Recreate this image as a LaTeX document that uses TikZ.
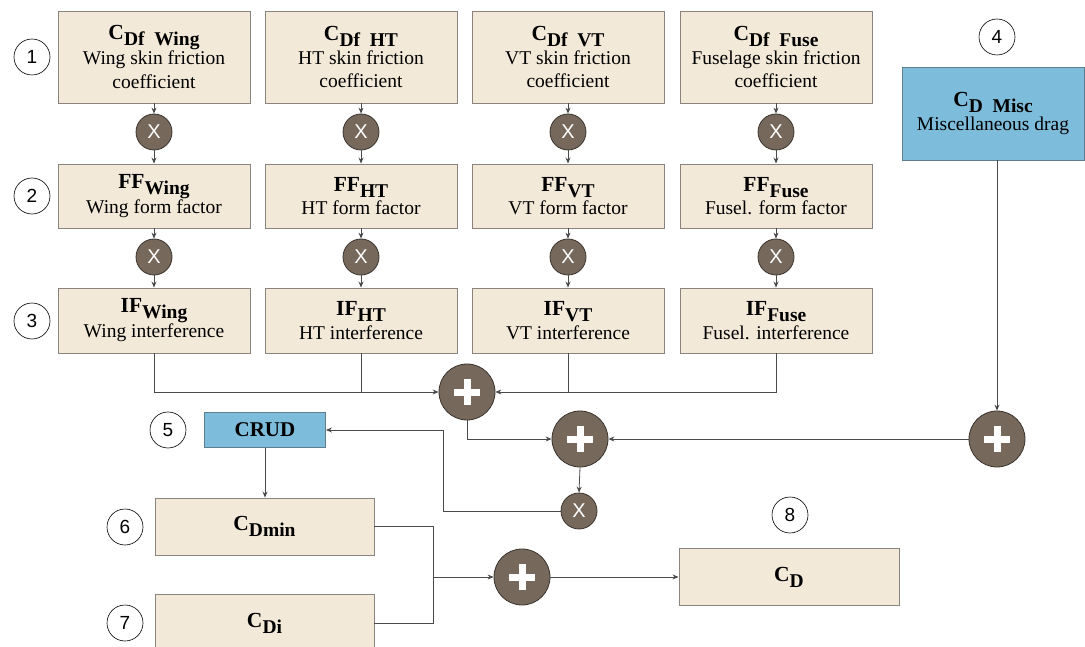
\documentclass[tikz,border=0pt]{standalone}
\usepackage{fontspec}
\setmainfont{Liberation Serif}
\newfontfamily\numfont{Liberation Sans}
\usetikzlibrary{arrows.meta,calc}
\definecolor{boxfill}{HTML}{F2E9D8}
\definecolor{boxline}{HTML}{8A837E}
\definecolor{bluefill}{HTML}{7DBCDA}
\definecolor{bluebord}{HTML}{5F7F8F}
\definecolor{opfill}{HTML}{76685B}
\definecolor{opline}{HTML}{3A332D}
\definecolor{wire}{HTML}{4A4A4A}
\newcommand\bodysize{\fontsize{19.5}{23.5}\selectfont}
\newcommand\ttl[2]{{\fontsize{21.5}{24}\selectfont\bfseries #1\raisebox{-0.6ex}{\fontsize{19.5}{22}\selectfont #2}}}
\tikzset{
  box/.style={draw=boxline, fill=boxfill, line width=0.9pt, align=center, inner sep=0pt, font=\bodysize},
  bluebox/.style={box, draw=bluebord, fill=bluefill},
  mult/.style={circle, draw=opline, fill=opfill, line width=0.8pt, minimum size=36pt, inner sep=0pt,
     text=white, font=\numfont\fontsize{20}{20}\selectfont},
  plus/.style={circle, draw=opline, fill=opfill, line width=0.8pt, minimum size=56pt, inner sep=0pt},
  num/.style={circle, draw=black, fill=white, line width=0.6pt, minimum size=36pt, inner sep=0pt,
     font=\numfont\fontsize{19}{19}\selectfont},
  wire/.style={draw=wire, line width=0.8pt},
  arr/.style={wire, -{Stealth[length=6pt,width=5pt]}},
}
% white cross drawn inside a summing node
\newcommand\pluscross[1]{%
  \fill[white] ($(#1)+(-13,-3.5)$) rectangle ($(#1)+(13,3.5)$);
  \fill[white] ($(#1)+(-3.5,-13)$) rectangle ($(#1)+(3.5,13)$);}
\begin{document}
\begin{tikzpicture}[x=1pt,y=-1pt]
\useasboundingbox (0,0) rectangle (1085,647);
\begin{scope}
\clip (0,0) rectangle (1085,647);

% row labels
\node[num] (n1) at (32,57) {1};
\node[num] (n2) at (32,196) {2};
\node[num] (n3) at (32,321) {3};
\node[num] (n4) at (997,37) {4};
\node[num] (n5) at (168,430) {5};
\node[num] (n6) at (125,527) {6};
\node[num] (n7) at (125,623) {7};
\node[num] (n8) at (790,515) {8};

% skin friction coefficients
\node[box, minimum width=192pt, minimum height=92pt] (cw) at (154,57) {\ttl{C}{Df\ \ Wing}\\Wing skin friction\\coefficient};
\node[box, minimum width=192pt, minimum height=92pt] (ch) at (361,57) {\ttl{C}{Df\ \ HT}\\HT skin friction\\coefficient};
\node[box, minimum width=192pt, minimum height=92pt] (cv) at (568,57) {\ttl{C}{Df\ \ VT}\\VT skin friction\\coefficient};
\node[box, minimum width=192pt, minimum height=92pt] (cf) at (776,57) {\ttl{C}{Df\ \ Fuse}\\Fuselage skin friction\\coefficient};

% form factors
\node[box, minimum width=192pt, minimum height=64pt] (fw) at (154,196) {\ttl{FF}{Wing}\\Wing form factor};
\node[box, minimum width=192pt, minimum height=64pt] (fh) at (361,196) {\ttl{FF}{HT}\\HT form factor};
\node[box, minimum width=192pt, minimum height=64pt] (fv) at (568,196) {\ttl{FF}{VT}\\VT form factor};
\node[box, minimum width=192pt, minimum height=64pt] (ff) at (776,196) {\ttl{FF}{Fuse}\\Fusel. form factor};

% interference factors
\node[box, minimum width=192pt, minimum height=65pt] (iw) at (154,320.5) {\ttl{IF}{Wing}\\Wing interference};
\node[box, minimum width=192pt, minimum height=65pt] (ih) at (361,320.5) {\ttl{IF}{HT}\\HT interference};
\node[box, minimum width=192pt, minimum height=65pt] (iv) at (568,320.5) {\ttl{IF}{VT}\\VT interference};
\node[box, minimum width=192pt, minimum height=65pt] (if) at (776,320.5) {\ttl{IF}{Fuse}\\Fusel. interference};

% multiplication nodes
\foreach \c/\x in {w/154,h/361,v/568,f/776}{
  \node[mult] (ma\c) at (\x,132) {X};
  \node[mult] (mb\c) at (\x,257) {X};
  \draw[arr] (c\c) -- (ma\c);
  \draw[arr] (ma\c) -- (f\c);
  \draw[arr] (f\c) -- (mb\c);
  \draw[arr] (mb\c) -- (i\c);
}

% miscellaneous drag
\node[bluebox, minimum width=182pt, minimum height=93pt] (misc) at (993,113.5) {\ttl{C}{D\ \ Misc}\\Miscellaneous drag};

% summing nodes
\node[plus] (p1) at (467,392) {};
\node[plus] (p2) at (580,439) {};
\node[plus] (p3) at (997,439) {};
\node[plus] (p4) at (522,577) {};
\foreach \p in {p1,p2,p3,p4}{\pluscross{\p}}

\node[mult] (mc) at (579,511) {X};

% lower boxes
\node[bluebox, minimum width=121pt, minimum height=35pt, font=\fontsize{21}{24}\selectfont\bfseries] (crud) at (265,430) {CRUD};
\node[box, minimum width=219pt, minimum height=57pt] (cdmin) at (264.5,526.5) {\ttl{C}{Dmin}};
\node[box, minimum width=219pt, minimum height=58pt] (cdi) at (264.5,623) {\ttl{C}{Di}};
\node[box, minimum width=220pt, minimum height=57pt] (cd) at (789,577) {\ttl{C}{D}};

% sum of the component drags
\draw[arr] (iw.south) |- (p1.west);
\draw[wire] (ih.south) -- (ih.south |- p1);
\draw[wire] (iv.south) -- (iv.south |- p1);
\draw[arr] (if.south) |- (p1.east);
\draw[arr] (p1.south) |- (p2.west);
\draw[arr] (misc.south -| p3) -- (p3.north);
\draw[arr] (p3.west) -- (p2.east);
\draw[arr] (p2.south) -- (mc.north);
\coordinate (fbk) at (443,430);
\draw[arr] (mc.west) -| (fbk |- crud.east) -- (crud.east);
\draw[arr] (crud.south) -- (cdmin.north -| crud.south);

% minimum plus induced drag
\coordinate (jn) at (433,577);
\draw[wire] (cdmin.east) -| (jn);
\draw[wire] (cdi.east) -| (jn);
\draw[arr] (jn) -- (p4.west);
\draw[arr] (p4.east) -- (cd.west);
\end{scope}
\end{tikzpicture}
\end{document}
